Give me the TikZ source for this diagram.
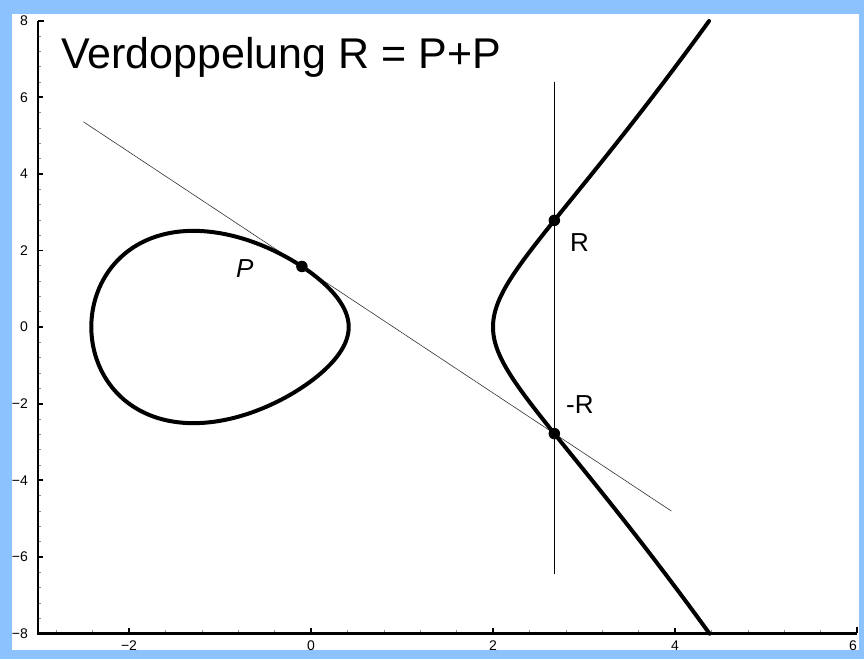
\documentclass[tikz,border=0pt]{standalone}
\usepackage{fontspec}
\setmainfont{Liberation Sans}
\definecolor{bgblue}{RGB}{140,195,255}
\tikzset{
  curveline/.style={line width=4pt, line cap=round, line join=round},
  axisline/.style={line width=2.6pt, line join=miter},
  majortick/.style={line width=1.8pt},
  minortick/.style={line width=0.5pt, black!45},
  ticklabel/.style={font=\fontsize{14}{16}\selectfont, inner sep=0pt},
  ptlabel/.style={font=\fontsize{26}{30}\selectfont, inner sep=0pt, anchor=base west},
  dot/.style={circle, fill=black, inner sep=0pt, minimum size=11.5pt}
}
\begin{document}
\begin{tikzpicture}[x=1pt,y=1pt]
\fill[bgblue] (0,0) rectangle (864,-659);
\useasboundingbox (0,0) rectangle (864,-659);
\fill[white] (12,-14) rectangle (859,-650);

\begin{scope}[shift={(311,-327)}, x=91pt, y=38.3pt]
  % minor ticks
  \foreach \k in {0,...,40} \draw[minortick] (-3,-8+0.4*\k) -- ++(3pt,0);
  \foreach \k in {0,...,22} \draw[minortick] (-2.8+0.4*\k,-8) -- ++(0,3pt);
  % major ticks
  \foreach \v in {-6,-4,...,6} \draw[majortick] (-3,\v) -- ++(5pt,0);
  \foreach \v in {-2,0,2,4} \draw[majortick] (\v,-8) -- ++(0,5pt);
  \draw[majortick] (-3,8) -- ++(6pt,0);
  \draw[majortick] (6,-8) -- ++(0,6pt);
  % axes
  \draw[axisline] (-3,8) -- (-3,-8) -- (6,-8);
  % tick labels
  \foreach \v/\t in {8/8,6/6,4/4,2/2,0/0,-2/−2,-4/−4,-6/−6,-8/−8}
    \node[ticklabel, anchor=east] (yl\v) at ([xshift=-10pt]-3,\v) {\t};
  \foreach \v/\t in {-2/−2,0/0,2/2,4/4}
    \node[ticklabel, anchor=north] (xl\v) at ([yshift=-7pt]\v,-8) {\t};
  \node[ticklabel, anchor=north] (xl6) at ([xshift=-4pt,yshift=-7pt]6,-8) {6};

  % points
  \coordinate (P) at (-0.1,1.5808);
  \coordinate (R) at (2.674,2.784);
  \coordinate (mR) at (2.674,-2.784);
  \coordinate (tA) at (-2.5,5.356);
  \coordinate (tB) at (3.96,-4.805);
  \coordinate (vA) at (2.674,6.4);
  \coordinate (vB) at (2.674,-6.45);

  % tangent and vertical line
  \draw[line width=0.6pt, black!80] (tA) -- (tB);
  \draw[line width=1.2pt] (vA) -- (vB);

  % elliptic curve y^2 = x^3 - 5x + 2
  \draw[curveline] plot[domain=0:360, samples=241, variable=\t]
    ({-1-1.41421*cos(\t)}, {sin(\t)*sqrt(2*(3+1.41421*cos(\t)))}) -- cycle;
  \draw[curveline] plot[domain=-1.5427:1.5427, samples=161, variable=\s]
    ({2+\s*\s}, {\s*sqrt((4.41421+\s*\s)*(1.58579+\s*\s))});

  \node[dot] (nP) at (P) {};
  \node[dot] (nR) at (R) {};
  \node[dot] (nmR) at (mR) {};
\end{scope}

\node[ptlabel, font=\fontsize{26}{30}\selectfont\itshape] (lP) at (236,-277) {P};
\node[ptlabel] (lR) at (570,-251) {R};
\node[ptlabel] (lmR) at (566,-413) {-R};
\node[anchor=base west, inner sep=0pt, font=\fontsize{43}{50}\selectfont] (title) at (61,-68) {Verdoppelung R = P+P};
\end{tikzpicture}
\end{document}
